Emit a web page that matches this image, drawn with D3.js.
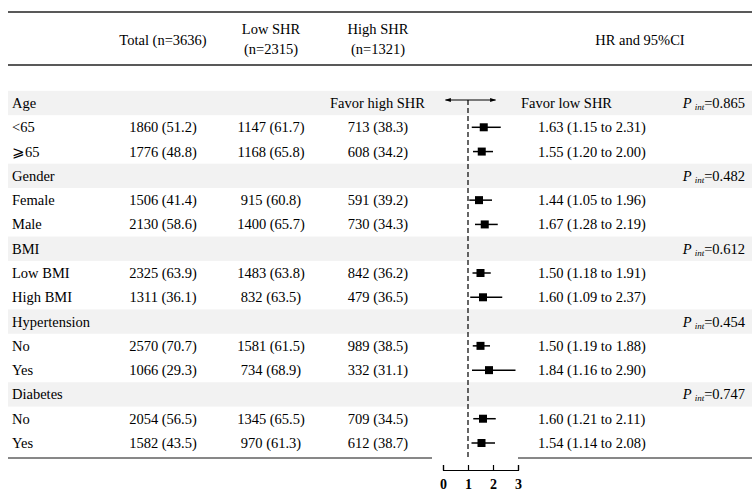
<!DOCTYPE html>
<html><head><meta charset="utf-8">
<script src="https://cdn.jsdelivr.net/npm/d3@7"></script>
<style>body{margin:0;background:#fff}svg{display:block}</style>
</head><body>
<script>
const groups = ["Age","Gender","BMI","Hypertension","Diabetes"];
const pint = ["0.865","0.482","0.612","0.454","0.747"];
const subLabels = [["<65","⩾65"],["Female","Male"],["Low BMI","High BMI"],["No","Yes"],["No","Yes"]];
const totalN = [["1860 (51.2)","1776 (48.8)"],["1506 (41.4)","2130 (58.6)"],["2325 (63.9)","1311 (36.1)"],["2570 (70.7)","1066 (29.3)"],["2054 (56.5)","1582 (43.5)"]];
const lowN = [["1147 (61.7)","1168 (65.8)"],["915 (60.8)","1400 (65.7)"],["1483 (63.8)","832 (63.5)"],["1581 (61.5)","734 (68.9)"],["1345 (65.5)","970 (61.3)"]];
const highN = [["713 (38.3)","608 (34.2)"],["591 (39.2)","730 (34.3)"],["842 (36.2)","479 (36.5)"],["989 (38.5)","332 (31.1)"],["709 (34.5)","612 (38.7)"]];
const hr = [[1.63,1.55],[1.44,1.67],[1.50,1.60],[1.50,1.84],[1.60,1.54]];
const lo = [[1.15,1.20],[1.05,1.28],[1.18,1.09],[1.19,1.16],[1.21,1.14]];
const hi = [[2.31,2.00],[1.96,2.19],[1.91,2.37],[1.88,2.90],[2.11,2.08]];
const axisTicks = [0,1,2,3];

const W=752,H=493;
const font="'Liberation Serif','Times New Roman',serif";
const FS="14.5px";
const svg=d3.select("body").append("svg").attr("width",W).attr("height",H)
  .style("font-family",font).style("font-size",FS);

const rows=[];
groups.forEach((g,i)=>{
  rows.push({type:"group",label:g,p:pint[i]});
  subLabels[i].forEach((s,j)=>rows.push({type:"sub",label:s,total:totalN[i][j],low:lowN[i][j],high:highN[i][j],hr:hr[i][j],lo:lo[i][j],hi:hi[i][j]}));
});
const y=d3.scalePoint().domain(d3.range(rows.length)).range([103,443]);
const step=y.step();
const x=d3.scaleLinear().domain([0,3]).range([443,518]);

rows.forEach((r,i)=>{
  if(r.type==="group") svg.append("rect").attr("x",8).attr("width",W-8)
    .attr("y",y(i)-step/2).attr("height",step).attr("fill","#f2f2f2");
});

svg.append("line").attr("x1",8).attr("x2",W).attr("y1",12).attr("y2",12).attr("stroke","#222").attr("stroke-width",1.5);
svg.append("line").attr("x1",8).attr("x2",W).attr("y1",65).attr("y2",65).attr("stroke","#222").attr("stroke-width",1.5);
svg.append("line").attr("x1",8).attr("x2",432).attr("y1",458).attr("y2",458).attr("stroke","#111").attr("stroke-width",1);
svg.append("line").attr("x1",518).attr("x2",W).attr("y1",458).attr("y2",458).attr("stroke","#111").attr("stroke-width",1);

const hdr=svg.append("g").attr("fill","#000");
hdr.append("text").attr("x",163).attr("y",45).attr("text-anchor","middle").text("Total (n=3636)");
hdr.append("text").attr("x",271).attr("y",34).attr("text-anchor","middle").text("Low SHR");
hdr.append("text").attr("x",271).attr("y",54).attr("text-anchor","middle").text("(n=2315)");
hdr.append("text").attr("x",378).attr("y",34).attr("text-anchor","middle").text("High SHR");
hdr.append("text").attr("x",378).attr("y",54).attr("text-anchor","middle").text("(n=1321)");
hdr.append("text").attr("x",640).attr("y",45).attr("text-anchor","middle").text("HR and 95%CI");

svg.append("line").attr("x1",x(1)).attr("x2",x(1)).attr("y1",y(0)-3).attr("y2",460)
  .attr("stroke","#000").attr("stroke-width",1.2).attr("stroke-dasharray","5,3");

const defs=svg.append("defs");
defs.append("marker").attr("id","ah").attr("viewBox","0 0 10 10").attr("refX",9).attr("refY",5)
  .attr("markerWidth",7).attr("markerHeight",6).attr("orient","auto-start-reverse")
  .append("path").attr("d","M0,1.5 L10,5 L0,8.5 Z").attr("fill","#000");
const ay=y(0)-3;
svg.append("line").attr("x1",x(0.1)).attr("x2",x(2.1)).attr("y1",ay).attr("y2",ay)
  .attr("stroke","#000").attr("stroke-width",1).attr("marker-start","url(#ah)").attr("marker-end","url(#ah)");
svg.append("text").attr("x",425).attr("y",y(0)+5).attr("text-anchor","end").text("Favor high SHR");
svg.append("text").attr("x",521).attr("y",y(0)+5).text("Favor low SHR");

rows.forEach((r,i)=>{
  const yy=y(i)+5;
  svg.append("text").attr("x",12).attr("y",yy).text(r.label);
  if(r.type==="group"){
    const t=svg.append("text").attr("x",745).attr("y",yy).attr("text-anchor","end");
    t.append("tspan").attr("font-style","italic").text("P");
    t.append("tspan").attr("font-style","italic").attr("font-size","9px").attr("dx",3).attr("dy",2).text("int");
    t.append("tspan").attr("dy",-2).text("="+r.p);
  } else {
    svg.append("text").attr("x",163).attr("y",yy).attr("text-anchor","middle").text(r.total);
    svg.append("text").attr("x",271).attr("y",yy).attr("text-anchor","middle").text(r.low);
    svg.append("text").attr("x",378).attr("y",yy).attr("text-anchor","middle").text(r.high);
    svg.append("text").attr("x",538).attr("y",yy).text(`${r.hr.toFixed(2)} (${r.lo.toFixed(2)} to ${r.hi.toFixed(2)})`);
    svg.append("line").attr("x1",x(r.lo)).attr("x2",x(r.hi)).attr("y1",y(i)).attr("y2",y(i)).attr("stroke","#000").attr("stroke-width",1.5);
    svg.append("rect").attr("x",x(r.hr)-4).attr("y",y(i)-4).attr("width",8).attr("height",8).attr("fill","#000");
  }
});

const ax=svg.append("g").attr("transform","translate(0,470)")
  .call(d3.axisBottom(x).tickValues(axisTicks).tickSize(-5).tickPadding(9).tickFormat(d3.format("d")));
ax.select(".domain").attr("stroke","#000").attr("stroke-width",1.2);
ax.selectAll(".tick line").attr("stroke","#000").attr("stroke-width",1.2);
ax.selectAll("text").attr("font-family",font).attr("font-size","14px").attr("font-weight","bold").attr("fill","#000");
</script>
</body></html>
